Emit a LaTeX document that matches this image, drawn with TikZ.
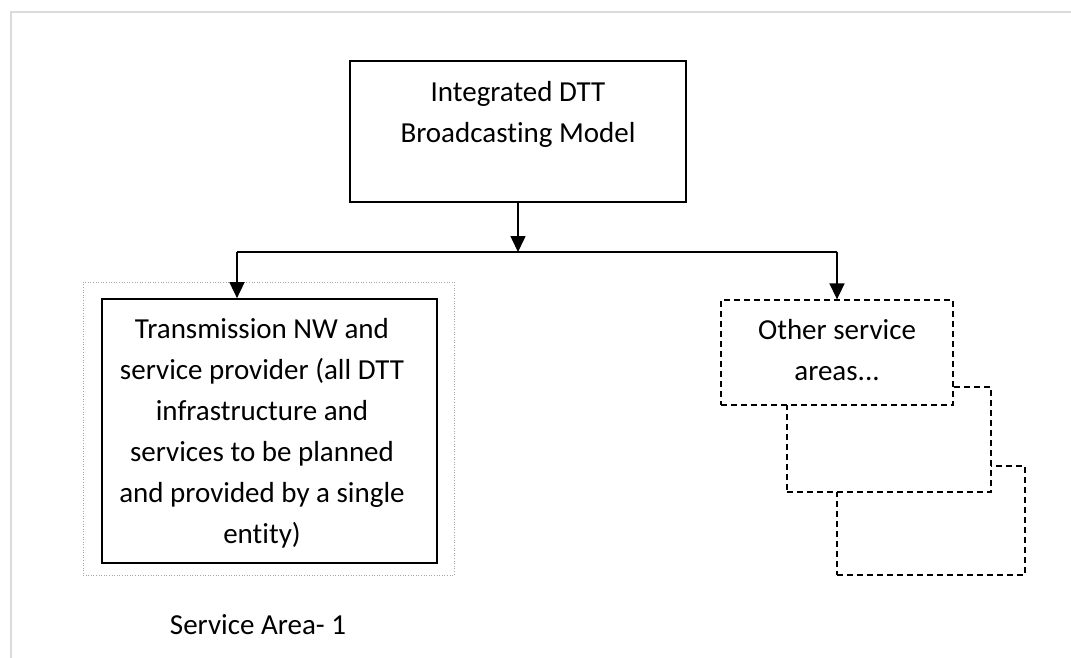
\documentclass[tikz,border=0pt]{standalone}
\usepackage{fontspec}
\setmainfont[Ligatures={NoCommon}]{Carlito}
\usetikzlibrary{arrows.meta}
\begin{document}
\begin{tikzpicture}[x=1pt,y=-1pt,
  txt/.style={font=\fontsize{29}{41}\selectfont, align=center, inner sep=0pt},
  solidbox/.style={draw=black, line width=1.7pt, rectangle, fill=white, txt},
  dashbox/.style={draw=black, line width=1.3pt, dash pattern=on 6pt off 4pt, rectangle, fill=white, txt},
  conn/.style={line width=1.6pt},
  arr/.style={conn, -{Triangle[length=16pt,width=15pt]}},
  frameline/.style={draw=black!14, line width=2pt}
]
\useasboundingbox (0,0) rectangle (1071,658);
% page frame
\draw[frameline] (11,658) -- (11,12) -- (1071,12);

% top box
\node[solidbox, minimum width=336pt, minimum height=141pt] (top) at (518,131.5) {};
\node[txt] (toptxt) at (518,114) {Integrated DTT\\Broadcasting Model};

% left service area
\node[draw=black!35, line width=0.6pt, dotted, minimum width=371pt, minimum height=293pt, inner sep=0pt] (outer) at (268.5,428.5) {};
\node[solidbox, minimum width=335pt, minimum height=264pt] (left) at (269.5,431) {};
\node[txt] (lefttxt) at (262,433)
  {Transmission NW and\\service provider (all DTT\\infrastructure and\\services to be planned\\and provided by a single\\entity)};
\node[txt] (lbl) at (258,625) {Service Area- 1};

% other service areas (stacked)
\node[dashbox, minimum width=188pt, minimum height=109pt] (o3) at (931,520.5) {};
\node[dashbox, minimum width=204pt, minimum height=105pt] (o2) at (889,439.5) {};
\node[dashbox, minimum width=232pt, minimum height=105pt] (o1) at (837,352.5) {};
\node[txt] (o1txt) at (837,350.5) {Other service\\areas...};

% connectors
\coordinate (j) at (518,252);
\coordinate (jl) at (237,252);
\coordinate (jr) at (837,252);
\draw[arr] (top.south) -- (j);
\draw[conn] (jl) -- (jr);
\draw[arr] (jl) -- (jl |- left.north);
\draw[arr] (jr) -- (o1.north);
\end{tikzpicture}
\end{document}
